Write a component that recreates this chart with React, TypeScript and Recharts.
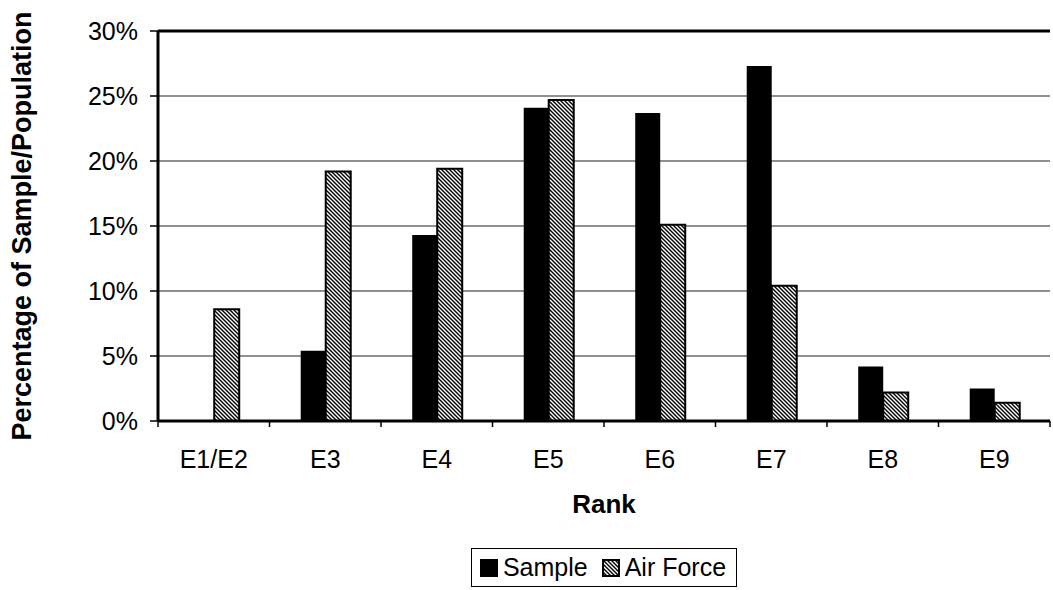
import React from 'react';
import { BarChart, Bar, XAxis, YAxis, CartesianGrid, Legend, ReferenceLine } from 'recharts';

// Ranks and shares (fractions)
const ranks = ['E1/E2', 'E3', 'E4', 'E5', 'E6', 'E7', 'E8', 'E9'];
const sampleShare = [0, 0.054, 0.143, 0.241, 0.237, 0.273, 0.042, 0.025];
const airForceShare = [0.086, 0.192, 0.194, 0.247, 0.151, 0.104, 0.022, 0.014];
const yTicks = [0, 0.05, 0.1, 0.15, 0.2, 0.25, 0.3];

const data = ranks.map((rank, i) => ({
  rank,
  sample: sampleShare[i],
  airForce: airForceShare[i],
}));

const FONT = '"Liberation Sans", Arial, sans-serif';
const W = 1053;
const H = 590;
const MARGIN = { top: 31, right: 3, left: 0, bottom: 69 };
const Y_AXIS_W = 158;
const X_AXIS_H = 100;
const PLOT_W = W - MARGIN.left - MARGIN.right - Y_AXIS_W;

function RankTick(props: any) {
  const { x, y, payload, index } = props;
  const half = PLOT_W / ranks.length / 2;
  return (
    <g>
      <line x1={x - half} y1={y - 8} x2={x - half} y2={y - 2} stroke="#000" strokeWidth={1.5} />
      {index === ranks.length - 1 && (
        <line x1={x + half} y1={y - 8} x2={x + half} y2={y - 2} stroke="#000" strokeWidth={1.5} />
      )}
      <text x={x} y={y + 39} textAnchor="middle" fontFamily={FONT} fontSize={25} fill="#000">
        {payload.value}
      </text>
    </g>
  );
}

function LegendBox() {
  const item = { display: 'flex', alignItems: 'center', gap: 5 } as const;
  return (
    <div style={{ display: 'flex', justifyContent: 'center' }}>
      <div
        style={{
          display: 'flex',
          alignItems: 'center',
          gap: 14,
          border: '1px solid #000',
          padding: '4px 10px 4px 8px',
          fontFamily: FONT,
          fontSize: 25,
          color: '#000',
          background: '#fff',
        }}
      >
        <span style={item}>
          <svg width={18} height={18}>
            <rect x={0} y={0} width={18} height={18} fill="#000" />
          </svg>
          Sample
        </span>
        <span style={item}>
          <svg width={18} height={18}>
            <defs>
              <pattern id="hatchLegend" width={4} height={4} patternUnits="userSpaceOnUse">
                <rect width={4} height={4} fill="#fff" />
                <path d="M-1,-1 L5,5 M-1,3 L1,5 M3,-1 L5,1" stroke="#000" strokeWidth={1.4} />
              </pattern>
            </defs>
            <rect x={1} y={1} width={16} height={16} fill="url(#hatchLegend)" stroke="#000" strokeWidth={2} />
          </svg>
          Air Force
        </span>
      </div>
    </div>
  );
}

export default function App() {
  return (
    <div style={{ position: 'absolute', left: 0, top: 0, background: '#fff' }}>
      <BarChart width={W} height={H} data={data} margin={MARGIN} barCategoryGap="28%" barGap={0}>
        <defs>
          <pattern id="hatch" width={4} height={4} patternUnits="userSpaceOnUse">
            <rect width={4} height={4} fill="#fff" />
            <path d="M-1,-1 L5,5 M-1,3 L1,5 M3,-1 L5,1" stroke="#000" strokeWidth={1.4} />
          </pattern>
        </defs>
        <CartesianGrid vertical={false} stroke="#222" strokeWidth={1.2} />
        <ReferenceLine y={0.3} stroke="#000" strokeWidth={3} ifOverflow="extendDomain" />
        <XAxis
          dataKey="rank"
          height={X_AXIS_H}
          axisLine={{ stroke: '#000', strokeWidth: 3 }}
          tickLine={false}
          interval={0}
          tick={<RankTick />}
          label={{
            content: (p: any) => (
              <text
                x={p.viewBox.x + p.viewBox.width / 2}
                y={p.viewBox.y + 92}
                textAnchor="middle"
                fontFamily={FONT}
                fontWeight="bold"
                fontSize={26}
                fill="#000"
              >
                Rank
              </text>
            ),
          }}
        />
        <YAxis
          width={Y_AXIS_W}
          domain={[0, 0.3]}
          ticks={yTicks}
          interval={0}
          tickFormatter={(v: number) => `${Math.round(v * 100)}%`}
          axisLine={{ stroke: '#000', strokeWidth: 3 }}
          tickLine={{ stroke: '#000', strokeWidth: 1.5 }}
          tickSize={8}
          tickMargin={12}
          tick={{ fontFamily: FONT, fontSize: 25, fill: '#000' }}
          label={{
            content: (p: any) => {
              const cx = 22;
              const cy = p.viewBox.y + p.viewBox.height / 2;
              return (
                <text
                  x={cx}
                  y={cy}
                  transform={`rotate(-90, ${cx}, ${cy})`}
                  textAnchor="middle"
                  dominantBaseline="central"
                  fontFamily={FONT}
                  fontWeight="bold"
                  fontSize={27}
                  fill="#000"
                >
                  Percentage of Sample/Population
                </text>
              );
            },
          }}
        />
        <Legend
          layout="vertical"
          align="center"
          verticalAlign="middle"
          wrapperStyle={{ top: 548, left: Y_AXIS_W, width: PLOT_W }}
          content={<LegendBox />}
        />
        <Bar dataKey="sample" name="Sample" fill="#000" isAnimationActive={false} />
        <Bar
          dataKey="airForce"
          name="Air Force"
          fill="url(#hatch)"
          stroke="#000"
          strokeWidth={2}
          isAnimationActive={false}
        />
      </BarChart>
    </div>
  );
}
